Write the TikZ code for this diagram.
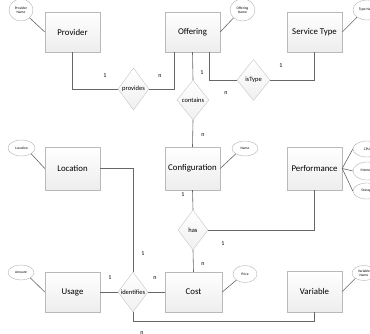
\documentclass[tikz,border=0pt]{standalone}
\usepackage{fontspec}
\setmainfont{Carlito}
\usetikzlibrary{shapes.geometric,shadows}
\tikzset{
  ent/.style={draw=gray!55, top color=white, bottom color=gray!14, minimum width=55pt, minimum height=40pt, inner sep=0pt,
    font=\fontsize{8.8}{10}\selectfont, drop shadow={opacity=0.25, shadow xshift=0.6pt, shadow yshift=-0.6pt}},
  rel/.style={draw=gray!45, diamond, top color=white, bottom color=gray!12, minimum width=31pt, minimum height=41pt, inner sep=0pt},
  reltxt/.style={font=\fontsize{6.5}{7}\selectfont},
  att/.style={draw=gray!60, ellipse, fill=white, inner sep=0pt, font=\fontsize{3.6}{4}\selectfont, align=center},
  conn/.style={draw=gray!80!black, line width=0.6pt},
  card/.style={font=\fontsize{6}{7}\selectfont, inner sep=0pt},
}
\begin{document}
\begin{tikzpicture}[x=1pt,y=-1pt]
\useasboundingbox (0,0) rectangle (370,334);
% entities
\node[ent] (provider) at (72.5,32) {Provider};
\node[ent] (offering) at (192.5,32) {Offering};
\node[ent] (servicetype) at (314.5,32) {Service Type};
\node[ent, minimum height=43pt] (location) at (72.5,168.5) {Location};
\node[ent, minimum height=43pt] (configuration) at (192.5,168.5) {Configuration};
\node[ent, minimum height=43pt] (performance) at (314.5,168.5) {Performance};
\node[ent] (usage) at (72.5,292) {Usage};
\node[ent, minimum width=57pt] (cost) at (193.5,292) {Cost};
\node[ent, minimum height=41pt] (variable) at (314.5,291.5) {Variable};
% relationships
\node[rel, minimum height=42pt] (provides) at (133.5,89) {};
\node[reltxt] at (provides) {provides};
\node[rel, minimum width=32pt, minimum height=40pt] (contains) at (193,100) {};
\node[reltxt] at (contains) {contains};
\node[rel, minimum width=33pt] (istype) at (253.5,80) {};
\node[reltxt] at (istype) {isType};
\node[rel, minimum width=30pt, minimum height=40pt] (has) at (193,230) {};
\node[reltxt] at (has) {has};
\node[rel, minimum width=30pt, minimum height=40pt] (identifies) at (133,292) {};
\node[reltxt] at (identifies) {identifies};
% attributes
\node[att, minimum width=24pt, minimum height=22pt] (pname) at (21,10) {Provider\\Name};
\node[att, minimum width=25pt, minimum height=22pt] (oname) at (242.5,10) {Offering\\Name};
\node[att, minimum width=28pt, minimum height=20pt] (tname) at (367,10) {Type Name};
\node[att, minimum width=27pt, minimum height=16pt] (locattr) at (21.5,148) {Location};
\node[att, minimum width=26pt, minimum height=15pt] (cname) at (245,148.5) {Name};
\node[att, minimum width=28pt, minimum height=16pt] (cpu) at (367,149) {CPU};
\node[att, minimum width=28pt, minimum height=18pt] (memory) at (367,171) {Memory};
\node[att, minimum width=28pt, minimum height=16pt] (storage) at (367,191) {Storage};
\node[att, minimum width=26pt, minimum height=15pt] (amount) at (21,272.5) {Amount};
\node[att, minimum width=24pt, minimum height=17pt] (price) at (245,274) {Price};
\node[att, minimum width=24pt, minimum height=15pt] (vname) at (364,273) {Variable\\Name};
% attribute links
\draw[conn] (provider.west) -- (pname.south east);
\draw[conn] (offering.east) -- (oname.south west);
\draw[conn] (servicetype.east) -- (tname.south west);
\draw[conn] (location.west) -- (locattr.south east);
\draw[conn] (configuration.east) -- (cname.south west);
\draw[conn] (performance.east) -- (cpu.west);
\draw[conn] (performance.east) -- (memory.west);
\draw[conn] (performance.east) -- (storage.west);
\draw[conn] (usage.west) -- (amount.south east);
\draw[conn] (cost.east) -- (price.south west);
\draw[conn] (variable.east) -- (vname.south west);
% relationship links
\draw[conn] (provider.south) |- (provides.west);
\draw[conn] ([xshift=-18.5pt]offering.south) |- (provides.east);
\draw[conn] (offering.south) -- (contains.north);
\draw[conn] ([xshift=16.5pt]offering.south) |- (istype.west);
\draw[conn] (servicetype.south) |- (istype.east);
\draw[conn] (contains.south) -- (configuration.north);
\draw[conn] (configuration.south) -- (has.north);
\draw[conn] (has.east) -| (performance.south);
\draw[conn] (has.south) -- (cost.north);
\draw[conn] (cost.west) -- (identifies.east);
\draw[conn] (usage.east) -- (identifies.west);
\draw[conn] (location.east) -| (identifies.north);
\draw[conn] (identifies.south) |- ([yshift=-9pt]variable.south) -- (variable.south);
% cardinalities
\node[card] (c1) at (105,76) {1};
\node[card] (c2) at (160,76) {n};
\node[card] (c3) at (202,73) {1};
\node[card] (c4) at (226,93) {n};
\node[card] (c5) at (281,66) {1};
\node[card] (c6) at (203,135) {n};
\node[card] (c7) at (183,195) {1};
\node[card] (c8) at (223,244) {1};
\node[card] (c9) at (203,264) {n};
\node[card] (c10) at (143,254) {1};
\node[card] (c11) at (110,278) {1};
\node[card] (c12) at (155,278) {n};
\node[card] (c13) at (142,333) {n};
\end{tikzpicture}
\end{document}
